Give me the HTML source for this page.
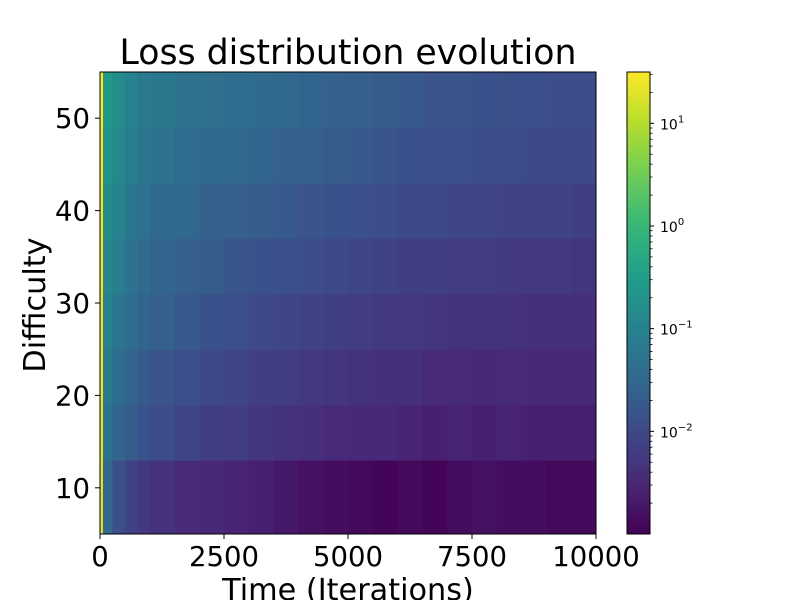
<!DOCTYPE html>
<html><head><meta charset="utf-8">
<style>
body{margin:0;background:#fff;}
svg{display:block;font-family:"DejaVu Sans","Liberation Sans",sans-serif;}
</style></head>
<body>
<svg id="chart" width="800" height="600" viewBox="0 0 800 600" xmlns="http://www.w3.org/2000/svg">
<rect width="800" height="600" fill="#fff"/>
<text x="348" y="64" font-size="34.7" text-anchor="middle">Loss distribution evolution</text>
<g id="cells"></g>
<rect x="100" y="72" width="496" height="462" fill="none" stroke="#000" stroke-width="1"/>
<g id="xaxis"></g>
<g id="yaxis"></g>
<text x="348" y="600" font-size="30.3" text-anchor="middle">Time (Iterations)</text>
<text transform="translate(45,305) rotate(-90)" font-size="30.3" text-anchor="middle">Difficulty</text>
<defs><linearGradient id="cbgrad" x1="0" y1="1" x2="0" y2="0"></linearGradient></defs>
<rect x="627" y="72" width="23" height="462" fill="url(#cbgrad)"/>
<rect x="627" y="72" width="23" height="462" fill="none" stroke="#000" stroke-width="1"/>
<g id="cbaxis"></g>
</svg>
<script>
// time bin edges (iterations)
const timeEdges = [0,60,250,500,750,1000,1500,2000,2500,3000,3500,4000,4500,5000,5500,6000,6500,7000,7500,8000,8500,9000,9500,10000];
// difficulty bin edges
const diffEdges = [5,13,19,25,31,37,43,49,55];
// log10(loss) per difficulty row (bottom to top), per time column
const row0 = [1.3,-1.5,-1.9,-2.1,-2.25,-2.35,-2.45,-2.5,-2.55,-2.6,-2.7,-2.8,-2.85,-2.9,-2.95,-2.9,-2.95,-2.85,-2.8,-2.85,-2.85,-2.9,-2.9];
const row1 = [1.35,-1.3,-1.55,-1.7,-1.85,-1.95,-2.05,-2.15,-2.2,-2.3,-2.35,-2.4,-2.45,-2.5,-2.5,-2.55,-2.6,-2.55,-2.6,-2.55,-2.6,-2.6,-2.6];
const row2 = [1.4,-1.15,-1.4,-1.55,-1.7,-1.8,-1.9,-2.0,-2.05,-2.15,-2.2,-2.25,-2.3,-2.35,-2.4,-2.4,-2.45,-2.45,-2.5,-2.45,-2.5,-2.5,-2.5];
const row3 = [1.4,-1.0,-1.25,-1.4,-1.55,-1.65,-1.75,-1.85,-1.9,-2.0,-2.05,-2.1,-2.15,-2.2,-2.25,-2.25,-2.3,-2.35,-2.35,-2.35,-2.4,-2.4,-2.4];
const row4 = [1.45,-0.9,-1.1,-1.3,-1.45,-1.55,-1.65,-1.7,-1.8,-1.85,-1.9,-1.95,-2.0,-2.05,-2.1,-2.15,-2.15,-2.2,-2.2,-2.25,-2.25,-2.25,-2.3];
const row5 = [1.45,-0.8,-1.0,-1.2,-1.35,-1.45,-1.5,-1.6,-1.65,-1.7,-1.75,-1.8,-1.85,-1.9,-1.95,-2.0,-2.0,-2.05,-2.05,-2.1,-2.1,-2.1,-2.15];
const row6 = [1.5,-0.7,-0.9,-1.1,-1.25,-1.3,-1.4,-1.45,-1.5,-1.55,-1.6,-1.65,-1.7,-1.75,-1.8,-1.85,-1.9,-1.9,-1.95,-1.95,-2.0,-2.0,-2.0];
const row7 = [1.5,-0.6,-0.8,-1.0,-1.15,-1.2,-1.3,-1.35,-1.4,-1.45,-1.5,-1.55,-1.6,-1.65,-1.7,-1.75,-1.8,-1.8,-1.85,-1.9,-1.9,-1.95,-1.95];
const rows = [row0,row1,row2,row3,row4,row5,row6,row7];
const xTicks = [0,2500,5000,7500,10000];
const yTicks = [10,20,30,40,50];
const cbTicks = [1,0,-1,-2];

const NS="http://www.w3.org/2000/svg";
const X0=100,X1=596,Y0=534,Y1=72;
const xScale=t=>X0+(t-0)/(10000-0)*(X1-X0);
const yScale=d=>Y0-(d-5)/(55-5)*(Y0-Y1);
const LMIN=-3.0,LMAX=1.5;
const cScale=l=>Y0-(l-LMIN)/(LMAX-LMIN)*(Y0-Y1);
const vir=[[68,1,84],[72,40,120],[62,73,137],[49,104,142],[38,130,142],[31,158,137],[53,183,121],[110,206,88],[181,222,43],[253,231,37]];
function viridis(f){f=Math.max(0,Math.min(1,f));const p=f*(vir.length-1);const i=Math.min(vir.length-2,Math.floor(p));const r=p-i;
 const c=vir[i].map((v,k)=>Math.round(v+(vir[i+1][k]-v)*r));return `rgb(${c[0]},${c[1]},${c[2]})`;}
const color=l=>viridis((l-LMIN)/(LMAX-LMIN));
function mk(tag,attrs,parent){const e=document.createElementNS(NS,tag);for(const k in attrs)e.setAttribute(k,attrs[k]);parent.appendChild(e);return e;}

const cells=document.getElementById('cells');
rows.forEach((row,ri)=>{
 row.forEach((v,ci)=>{
  const x=xScale(timeEdges[ci]),x2=xScale(timeEdges[ci+1]);
  const y=yScale(diffEdges[ri+1]),y2=yScale(diffEdges[ri]);
  const r=mk('rect',{x:x,y:y,width:x2-x+0.5,height:y2-y+0.5,fill:color(v)},cells);
  
  
 });
});

const xa=document.getElementById('xaxis');
xTicks.forEach(t=>{const x=xScale(t);
 const l=mk('line',{x1:x,x2:x,y1:534,y2:539,stroke:'#000'},xa);
 
 
 const tx=mk('text',{x:x,y:566,'font-size':27.5,'text-anchor':'middle'},xa);tx.textContent=t;
 
 
});
const ya=document.getElementById('yaxis');
yTicks.forEach(d=>{const y=yScale(d);
 const l=mk('line',{x1:95,x2:100,y1:y,y2:y,stroke:'#000'},ya);
 
 
 const tx=mk('text',{x:90,y:y+10,'font-size':27.5,'text-anchor':'end'},ya);tx.textContent=d;
 
 
});

const grad=document.getElementById('cbgrad');
for(let i=0;i<=20;i++){mk('stop',{offset:(i/20),'stop-color':viridis(i/20)},grad);}
const cba=document.getElementById('cbaxis');
cbTicks.forEach(e=>{const y=cScale(e);
 const l=mk('line',{x1:650,x2:654,y1:y,y2:y,stroke:'#000'},cba);
 
 
 const tx=mk('text',{x:660,y:y+6,'font-size':14},cba);
 
 
 tx.textContent='10';const s=mk('tspan',{dy:-7,'font-size':10},tx);s.textContent=e<0?'\u2212'+(-e):String(e);
});
for(let e=-3;e<=1;e++){for(let m=2;m<=9;m++){const l10=e+Math.log10(m);if(l10<LMIN||l10>LMAX)continue;const y=cScale(l10);
 const l=mk('line',{x1:650,x2:652.5,y1:y,y2:y,stroke:'#000','stroke-width':0.8},cba);
 
 
}}
</script>
</body></html>
